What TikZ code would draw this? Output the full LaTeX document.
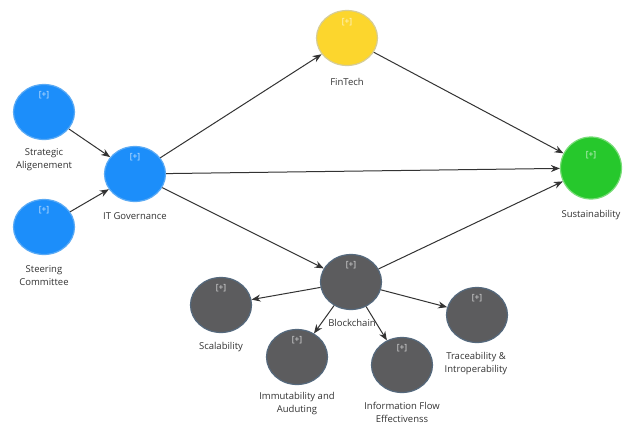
\documentclass[tikz,border=0pt]{standalone}
\usepackage{fontspec}
\setmainfont{Open Sans}
\usetikzlibrary{shapes.geometric,arrows.meta}
\definecolor{lvblue}{RGB}{28,142,250}
\definecolor{lvblueb}{RGB}{90,170,245}
\definecolor{lvyellow}{RGB}{252,214,45}
\definecolor{lvyellowb}{RGB}{215,205,150}
\definecolor{lvgreen}{RGB}{38,200,44}
\definecolor{lvgreenb}{RGB}{120,220,120}
\definecolor{lvgrey}{RGB}{92,92,94}
\definecolor{lvgreyb}{RGB}{85,105,125}
\tikzset{
  lv/.style={ellipse,minimum width=61pt,minimum height=55pt,inner sep=0pt,line width=1.2pt},
  bluelv/.style={lv,fill=lvblue,draw=lvblueb},
  yellowlv/.style={lv,fill=lvyellow,draw=lvyellowb},
  greenlv/.style={lv,fill=lvgreen,draw=lvgreenb},
  greylv/.style={lv,fill=lvgrey,draw=lvgreyb},
  plus/.style={text=white,text opacity=0.8,font=\fontsize{8.5}{9}\selectfont},
  lvname/.style={text=black!80,align=center,font=\fontsize{9.5}{13}\selectfont},
  link/.style={draw=black!80,line width=1pt,-{Stealth[length=9pt,width=7pt]}}
}
\begin{document}
\begin{tikzpicture}[x=1pt,y=-1pt]
\fill[white] (0,0) rectangle (640,434);
\useasboundingbox (0,0) rectangle (640,434);
% latent variables
\node[bluelv] (sa) at (44,112) {};
\node[bluelv] (sc) at (44,227) {};
\node[bluelv] (itg) at (135,174) {};
\node[yellowlv] (fin) at (347,38) {};
\node[greenlv,minimum height=62pt] (sus) at (591,168) {};
\node[greylv] (bc) at (351,282) {};
\node[greylv] (scal) at (221,305) {};
\node[greylv] (imm) at (297,357) {};
\node[greylv] (inf) at (402,365) {};
\node[greylv] (trc) at (477,315) {};
% [+] marks
\node[plus] (sa-p) at (44,95) {[+]};
\node[plus] (sc-p) at (44,210) {[+]};
\node[plus] (itg-p) at (135,157) {[+]};
\node[plus] (fin-p) at (347,22) {[+]};
\node[plus] (sus-p) at (591,155) {[+]};
\node[plus] (bc-p) at (351,265) {[+]};
\node[plus] (scal-p) at (221,288) {[+]};
\node[plus] (imm-p) at (297,340) {[+]};
\node[plus] (inf-p) at (402,348) {[+]};
\node[plus] (trc-p) at (477,298) {[+]};
% names
\node[lvname] (sa-n) at (44,160) {Strategic\\Aligenement};
\node[lvname] (sc-n) at (44,276) {Steering\\Committee};
\node[lvname] (itg-n) at (135,216) {IT Governance};
\node[lvname] (fin-n) at (347,82) {FinTech};
\node[lvname] (sus-n) at (591,215) {Sustainability};
\node[lvname] (bc-n) at (352,323) {Blockchain};
\node[lvname] (scal-n) at (221,347) {Scalability};
\node[lvname] (imm-n) at (297,404) {Immutability and\\Auduting};
\node[lvname] (inf-n) at (402,412) {Information Flow\\Effectivenss};
\node[lvname] (trc-n) at (476,364) {Traceability \&\\Introperability};
% paths
\draw[link] (sa) -- (itg);
\draw[link] (sc) -- (itg);
\draw[link] (itg) -- (fin);
\draw[link] (itg) -- (sus);
\draw[link] (itg) -- (bc);
\draw[link] (fin) -- (sus);
\draw[link] (bc) -- (sus);
\draw[link] (bc) -- (scal);
\draw[link] (bc) -- (imm);
\draw[link] (bc) -- (inf);
\draw[link] (bc) -- (trc);
\end{tikzpicture}
\end{document}
